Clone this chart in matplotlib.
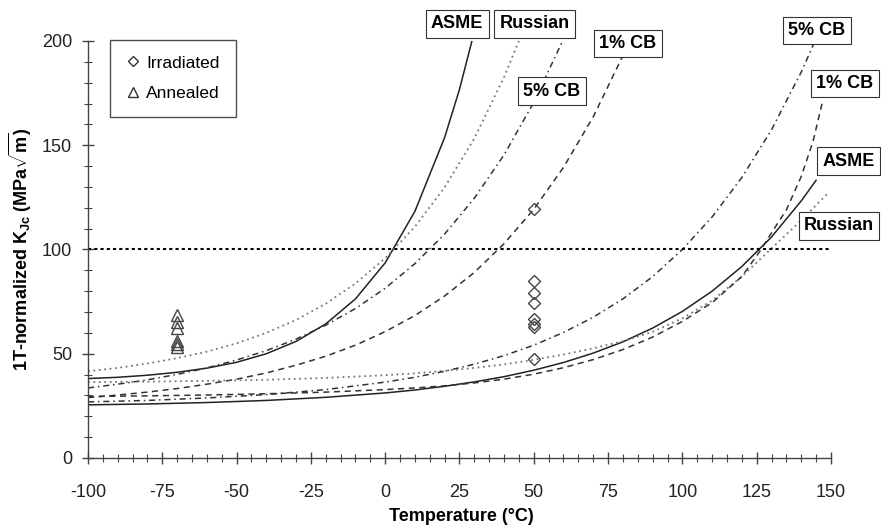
import matplotlib
matplotlib.use("Agg")
import matplotlib.pyplot as plt
from matplotlib.lines import Line2D
from matplotlib.ticker import MultipleLocator

plt.rcParams['font.family'] = ['Liberation Sans', 'DejaVu Sans']
plt.rcParams['mathtext.fontset'] = 'custom'
plt.rcParams['mathtext.rm'] = 'Liberation Sans:bold'
plt.rcParams['axes.unicode_minus'] = False

# Irradiated-state curves (left set)
t_asme_l = [-100, -90, -80, -70, -60, -50, -40, -30, -20, -10, 0, 10, 20, 25, 30]
k_asme_l = [38.1, 38.7, 39.7, 41.1, 43.1, 45.9, 50.0, 55.9, 64.3, 76.3, 93.6, 118.3, 153.7, 176.8, 204.5]

t_rus_l = [-100, -90, -80, -70, -60, -50, -40, -30, -20, -10, 0, 10, 20, 30, 40, 45]
k_rus_l = [41.6, 43.2, 45.3, 47.9, 51.0, 55.0, 60.0, 66.2, 74.0, 83.7, 95.8, 110.9, 129.8, 153.3, 182.7, 200.1]

t_cb5_l = [-100, -90, -80, -70, -60, -50, -40, -30, -20, -10, 0, 10, 20, 30, 40, 50, 60]
k_cb5_l = [33.6, 35.4, 37.5, 40.1, 43.2, 47.0, 51.5, 57.0, 63.7, 71.7, 81.4, 93.2, 107.4, 124.6, 145.4, 170.6, 201.0]

t_cb1_l = [-100, -90, -80, -70, -60, -50, -40, -30, -20, -10, 0, 10, 20, 30, 40, 50, 60, 70, 80]
k_cb1_l = [29.0, 30.2, 31.6, 33.3, 35.4, 37.8, 40.8, 44.5, 48.8, 54.1, 60.6, 68.3, 77.7, 89.0, 102.8, 119.3, 139.4, 163.6, 193.0]

# Annealed-state curves (right set)
t_asme_r = [-100, -80, -60, -40, -20, 0, 10, 20, 30, 40, 50, 60, 70, 80, 90, 100, 110, 120, 130, 140, 145]
k_asme_r = [25.5, 25.9, 26.6, 27.6, 29.1, 31.2, 32.6, 34.4, 36.5, 39.0, 42.1, 45.8, 50.3, 55.7, 62.3, 70.3, 80.0, 91.8, 106.0, 123.3, 133.2]

t_rus_r = [-100, -80, -60, -40, -20, 0, 10, 20, 30, 40, 50, 60, 70, 80, 90, 100, 110, 120, 130, 140, 149]
k_rus_r = [36.4, 36.6, 37.0, 37.5, 38.4, 39.7, 40.6, 41.8, 43.2, 44.9, 47.1, 49.6, 52.6, 56.0, 60.5, 67.0, 75.5, 87.0, 100.5, 114.0, 127.0]

t_cb5_r = [-100, -80, -60, -40, -20, 0, 10, 20, 30, 40, 50, 60, 70, 80, 90, 100, 110, 120, 130, 140, 146]
k_cb5_r = [26.9, 27.6, 28.8, 30.4, 32.8, 36.4, 38.7, 41.6, 45.0, 49.1, 54.1, 60.2, 67.5, 76.3, 87.0, 100.0, 115.6, 134.5, 157.4, 185.1, 204.4]

t_cb1_r = [-100, -80, -60, -40, -20, 0, 10, 20, 30, 40, 50, 60, 70, 80, 90, 100, 110, 120, 126, 130, 135, 140, 144, 147]
k_cb1_r = [29.5, 29.8, 30.2, 30.8, 31.6, 32.8, 33.6, 34.6, 36.0, 37.8, 40.2, 43.3, 47.2, 52.0, 58.0, 65.5, 74.5, 87.0, 99.0, 108.0, 119.0, 135.0, 152.0, 170.0]

# Test data
irr_t = [50, 50, 50, 50, 50, 50, 50, 50]
irr_k = [119.5, 85.0, 79.0, 74.5, 66.5, 64.5, 63.0, 47.5]
ann_t = [-70, -70, -70, -70, -70, -70]
ann_k = [68.5, 65.0, 62.5, 56.0, 54.5, 53.0]

# Curve labels: text, T, K
labels = [
    ("ASME", 24.2, 208.2),
    ("Russian", 50.4, 208.2),
    ("1% CB", 81.7, 198.8),
    ("5% CB", 56.1, 176.0),
    ("5% CB", 145.3, 205.0),
    ("1% CB", 154.7, 179.6),
    ("ASME", 156.0, 142.4),
    ("Russian", 152.7, 111.3),
]

fig = plt.figure(figsize=(8.81, 5.31), dpi=100)
ax = fig.add_axes([0.0999, 0.1375, 0.8433, 0.7853])

solid = dict(color='#222222', lw=1.1, ls='-')
dotted = dict(color='#777777', lw=1.3, ls=(0, (1, 2)))
dashdot = dict(color='#333333', lw=1.1, ls=(0, (4, 2.5, 1, 2.5)))
dashed = dict(color='#333333', lw=1.1, ls=(0, (4, 3)))

ax.plot(t_asme_l, k_asme_l, **solid)
ax.plot(t_rus_l, k_rus_l, **dotted)
ax.plot(t_cb5_l, k_cb5_l, **dashdot)
ax.plot(t_cb1_l, k_cb1_l, **dashed)
ax.plot(t_asme_r, k_asme_r, **solid)
ax.plot(t_rus_r, k_rus_r, **dotted)
ax.plot(t_cb5_r, k_cb5_r, **dashdot)
ax.plot(t_cb1_r, k_cb1_r, **dashed)

# 100 MPa*sqrt(m) reference level
ax.plot([-100, 150], [100, 100], color='black', lw=1.5, ls=(0, (1.5, 1.5)))

ax.plot(irr_t, irr_k, ls='none', marker='D', ms=6.5, mfc='none', mec='#444444', mew=1.0)
ax.plot(ann_t, ann_k, ls='none', marker='^', ms=8.5, mfc='none', mec='#444444', mew=1.0)

for txt, tx, ky in labels:
    ax.text(tx, ky, txt, ha='center', va='center', fontsize=13, fontweight='bold',
            clip_on=False, zorder=5,
            bbox=dict(boxstyle='square,pad=0.3', fc='white', ec='#333333', lw=0.8))

ax.set_xlim(-100, 150)
ax.set_ylim(0, 200)
ax.xaxis.set_major_locator(MultipleLocator(25))
ax.xaxis.set_minor_locator(MultipleLocator(5))
ax.yaxis.set_major_locator(MultipleLocator(50))
ax.yaxis.set_minor_locator(MultipleLocator(10))

for s in ['top', 'right']:
    ax.spines[s].set_visible(False)
for s in ['left', 'bottom']:
    ax.spines[s].set_color('#444444')
    ax.spines[s].set_linewidth(1.0)

ax.tick_params(which='major', direction='inout', length=9, width=1, color='#444444',
               labelsize=13, labelcolor='#222222')
ax.tick_params(which='minor', direction='inout', length=6, width=0.8, color='#444444')
ax.tick_params(axis='x', which='major', pad=14)
ax.tick_params(axis='y', which='major', pad=7)

ax.set_xlabel('Temperature (°C)', fontsize=13, fontweight='bold')
ax.set_ylabel(r'1T-normalized K$_{\rm Jc}$ (MPa$\sqrt{\rm m}$)', fontsize=13, fontweight='bold')
ax.xaxis.set_label_coords(0.503, -0.12)
ax.yaxis.set_label_coords(-0.073, 0.5)

handles = [
    Line2D([], [], ls='none', marker='D', ms=5.5, mfc='none', mec='#333333', mew=1.0),
    Line2D([], [], ls='none', marker='^', ms=7, mfc='none', mec='#333333', mew=1.0),
]
leg = ax.legend(handles, ['Irradiated', 'Annealed'], loc='upper left',
                bbox_to_anchor=(0.0296, 1.003), fontsize=12.5, frameon=True, fancybox=False,
                edgecolor='#222222', handlelength=0.8, handletextpad=0.4,
                labelspacing=0.9, borderpad=0.9, borderaxespad=0)
leg.get_frame().set_linewidth(1.0)

fig.savefig('out.png', dpi=100)
